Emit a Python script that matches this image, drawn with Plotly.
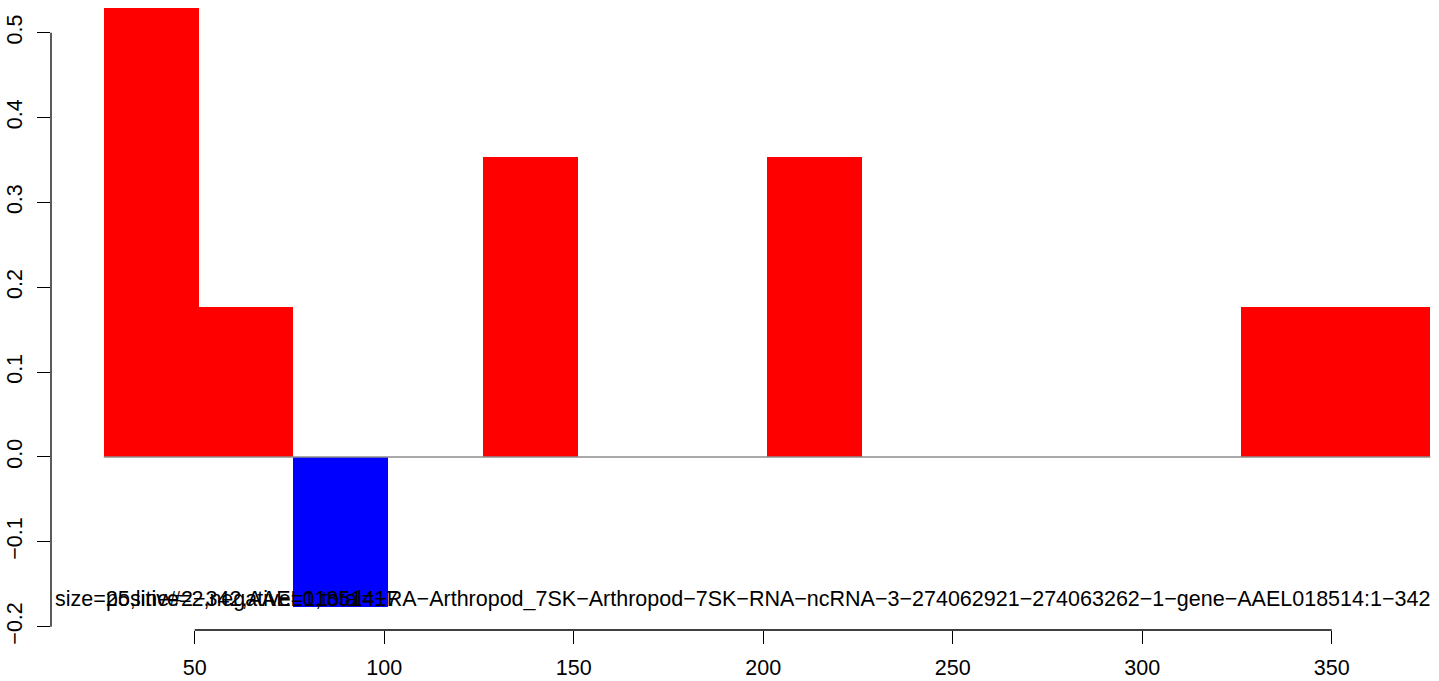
import plotly.graph_objects as go

# Data
bin_left = [26, 51, 76, 101, 126, 151, 176, 201, 226, 251, 276, 301, 326, 351]
bin_size = 25
values = [9/17, 3/17, -3/17, 0, 6/17, 0, 0, 6/17, 0, 0, 0, 0, 3/17, 3/17]
x_ticks = [50, 100, 150, 200, 250, 300, 350]
y_ticks = [-0.2, -0.1, 0.0, 0.1, 0.2, 0.3, 0.4, 0.5]
label_main = ("size=25,line#2\u2212342,AAEL018514\u2212RA\u2212Arthropod_7SK\u2212Arthropod\u22127SK\u2212RNA\u2212"
              "ncRNA\u22123\u2212274062921\u2212274063262\u22121\u2212gene\u2212AAEL018514:1\u2212342")
label_counts = "positive=2,negative=1,total=17"

centers = [b + bin_size / 2 for b in bin_left]
colors = ["red" if v >= 0 else "blue" for v in values]

FONT = "Liberation Sans, Arial, Helvetica, sans-serif"
FS = 21.5

fig = go.Figure()
fig.add_trace(go.Bar(
    x=centers, y=values, width=[bin_size] * len(values),
    marker=dict(color=colors, line=dict(width=0)),
    showlegend=False, hoverinfo="skip",
))
fig.add_trace(go.Scatter(
    x=[bin_left[0], bin_left[-1] + bin_size], y=[0, 0], mode="lines",
    line=dict(color="#8c8c8c", width=1.5), showlegend=False, hoverinfo="skip",
))

fig.add_annotation(x=194.4, y=-0.1675, xref="x", yref="y", text=label_main,
                   showarrow=False, xanchor="center", yanchor="middle",
                   font=dict(family=FONT, size=FS, color="black"))
fig.add_annotation(x=bin_left[0], y=-0.1675, xref="x", yref="y", text=label_counts,
                   showarrow=False, xanchor="left", yanchor="middle",
                   font=dict(family=FONT, size=FS, color="black"))

# R-style axis lines spanning only tick range
fig.add_shape(type="line", xref="paper", yref="y", x0=0, x1=0,
              y0=y_ticks[0], y1=y_ticks[-1], line=dict(color="black", width=1.3))
fig.add_shape(type="line", xref="x", yref="paper", x0=x_ticks[0], x1=x_ticks[-1],
              y0=0, y1=0, line=dict(color="black", width=1.3))

fig.update_layout(
    width=1439, height=681,
    margin=dict(l=51, r=0, t=0, b=51),
    paper_bgcolor="white", plot_bgcolor="white",
    font=dict(family=FONT, size=FS, color="black"),
    bargap=0,
    xaxis=dict(range=[12.08, 378.3], tickvals=x_ticks, ticktext=[str(v) for v in x_ticks],
               showgrid=False, zeroline=False, showline=False,
               ticks="outside", ticklen=13, tickwidth=1.3, tickcolor="black",
               ticklabelstandoff=5),
    yaxis=dict(range=[-0.2039, 0.5385], tickvals=y_ticks,
               ticktext=[f"{v:.1f}".replace("-", "\u2212") for v in y_ticks],
               tickangle=-90,
               showgrid=False, zeroline=False, showline=False,
               ticks="outside", ticklen=13, tickwidth=1.3, tickcolor="black",
               ticklabelstandoff=6),
)

fig.write_html("out.html", config={"displayModeBar": False},
               post_script="document.body.style.margin='0';document.body.style.padding='0';")
